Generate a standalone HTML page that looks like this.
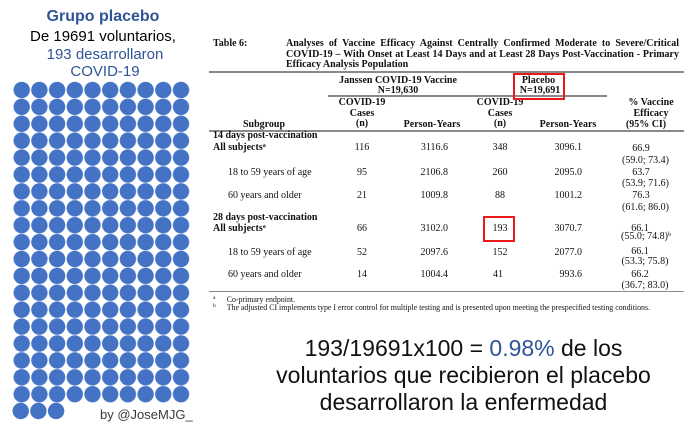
<!DOCTYPE html>
<html>
<head>
<meta charset="utf-8">
<style>
  html,body{margin:0;padding:0;background:#fff;}
  body{width:700px;height:436px;position:relative;overflow:hidden;}
  .s{position:absolute;white-space:nowrap;font-family:"Liberation Sans",Arial,sans-serif;}
  .t{position:absolute;white-space:nowrap;font-family:"Liberation Serif","Times New Roman",serif;font-size:10px;line-height:10px;color:#111;}
  .b{font-weight:bold;}
  .c{width:120px;text-align:center;}
  .r{text-align:right;width:80px;}
  .rule{position:absolute;background:#8a8a8a;}
  .box{position:absolute;border:2.5px solid #e8191a;box-sizing:border-box;}
  sup{font-size:6px;line-height:0;vertical-align:3px;}
</style>
</head>
<body>
<svg width="700" height="436" style="position:absolute;left:0;top:0" xmlns="http://www.w3.org/2000/svg">
  <defs>
    <pattern id="dots" patternUnits="userSpaceOnUse" x="12.85" y="81.55" width="17.7" height="16.9">
      <circle cx="8.85" cy="8.45" r="8.2" fill="#4472c4"/>
    </pattern>
  </defs>
  <rect x="12.85" y="81.55" width="177" height="321.1" fill="url(#dots)"/>
  <circle cx="20.7" cy="411" r="8.2" fill="#4472c4"/>
  <circle cx="38.4" cy="411" r="8.2" fill="#4472c4"/>
  <circle cx="56.1" cy="411" r="8.2" fill="#4472c4"/>
</svg>

<!-- Left title -->
<div class="s" style="left:3px;width:200px;text-align:center;top:8px;font-size:16px;line-height:18px;font-weight:bold;color:#2f5597;">Grupo placebo</div>
<div class="s" style="left:3px;width:200px;text-align:center;top:27.5px;font-size:15px;line-height:18px;color:#000;">De 19691 voluntarios,</div>
<div class="s" style="left:5px;width:200px;text-align:center;top:45.8px;font-size:15px;line-height:18px;color:#2f5597;">193 desarrollaron</div>
<div class="s" style="left:5px;width:200px;text-align:center;top:63.1px;font-size:15px;line-height:18px;color:#2f5597;">COVID-19</div>

<div class="s" style="left:100px;top:407px;font-size:13px;line-height:15px;color:#3a3a3a;">by @JoseMJG_</div>

<!-- Table title -->
<div class="t b" style="left:213px;top:39px;">Table 6:</div>
<div class="t b" style="left:286px;top:39px;width:393px;text-align:justify;text-align-last:justify;white-space:normal;">Analyses of Vaccine Efficacy Against Centrally Confirmed Moderate to Severe/Critical</div>
<div class="t b" style="left:286px;top:50px;width:393px;text-align:justify;text-align-last:justify;white-space:normal;">COVID-19 – With Onset at Least 14 Days and at Least 28 Days Post-Vaccination - Primary</div>
<div class="t b" style="left:286px;top:60px;">Efficacy Analysis Population</div>

<div class="rule" style="left:209px;top:71px;width:475px;height:1.6px;"></div>

<!-- Group headers -->
<div class="t b c" style="left:338px;top:75.6px;">Janssen COVID-19 Vaccine</div>
<div class="t b c" style="left:338px;top:85.6px;">N=19,630</div>
<div class="t b c" style="left:478.5px;top:75.6px;">Placebo</div>
<div class="t b c" style="left:480px;top:86px;">N=19,691</div>
<div class="rule" style="left:328px;top:95.3px;width:279px;height:1.3px;"></div>

<!-- Column headers -->
<div class="t b c" style="left:302px;top:98.3px;">COVID-19</div>
<div class="t b c" style="left:302px;top:108.9px;">Cases</div>
<div class="t b c" style="left:302px;top:119.4px;">(n)</div>
<div class="t b c" style="left:440px;top:98.3px;">COVID-19</div>
<div class="t b c" style="left:440px;top:108.9px;">Cases</div>
<div class="t b c" style="left:440px;top:119.4px;">(n)</div>
<div class="t b c" style="left:204px;top:119.6px;">Subgroup</div>
<div class="t b c" style="left:372px;top:119.6px;">Person-Years</div>
<div class="t b c" style="left:508px;top:119.6px;">Person-Years</div>
<div class="t b c" style="left:591px;top:98.3px;">% Vaccine</div>
<div class="t b c" style="left:591px;top:108.9px;">Efficacy</div>
<div class="t b c" style="left:586px;top:119.6px;">(95% CI)</div>

<div class="rule" style="left:209px;top:130.3px;width:475px;height:1.6px;"></div>

<!-- 14 days -->
<div class="t b" style="left:213px;top:130.9px;">14 days post-vaccination</div>
<div class="t b" style="left:213px;top:143.3px;">All subjects<sup>a</sup></div>
<div class="t c" style="left:302px;top:143.3px;">116</div>
<div class="t r" style="left:368px;top:143.3px;">3116.6</div>
<div class="t c" style="left:440px;top:143.3px;">348</div>
<div class="t r" style="left:502px;top:143.3px;">3096.1</div>
<div class="t c" style="left:581px;top:143.6px;">66.9</div>
<div class="t c" style="left:585.5px;top:156.1px;">(59.0; 73.4)</div>

<div class="t" style="left:228px;top:167.6px;">18 to 59 years of age</div>
<div class="t c" style="left:302px;top:167.6px;">95</div>
<div class="t r" style="left:368px;top:167.6px;">2106.8</div>
<div class="t c" style="left:440px;top:167.6px;">260</div>
<div class="t r" style="left:502px;top:167.6px;">2095.0</div>
<div class="t c" style="left:581px;top:167.6px;">63.7</div>
<div class="t c" style="left:585.5px;top:179.1px;">(53.9; 71.6)</div>

<div class="t" style="left:228px;top:190.6px;">60 years and older</div>
<div class="t c" style="left:302px;top:190.6px;">21</div>
<div class="t r" style="left:368px;top:190.6px;">1009.8</div>
<div class="t c" style="left:440px;top:190.6px;">88</div>
<div class="t r" style="left:502px;top:190.6px;">1001.2</div>
<div class="t c" style="left:581px;top:190.6px;">76.3</div>
<div class="t c" style="left:585.5px;top:203.1px;">(61.6; 86.0)</div>

<!-- 28 days -->
<div class="t b" style="left:213px;top:213.3px;">28 days post-vaccination</div>
<div class="t b" style="left:213px;top:224.3px;">All subjects<sup>a</sup></div>
<div class="t c" style="left:302px;top:224.3px;">66</div>
<div class="t r" style="left:368px;top:224.3px;">3102.0</div>
<div class="t c" style="left:440px;top:224.3px;">193</div>
<div class="t r" style="left:502px;top:224.3px;">3070.7</div>
<div class="t c" style="left:580px;top:224.3px;">66.1</div>
<div class="t c" style="left:586px;top:231.6px;">(55.0; 74.8)<sup>b</sup></div>

<div class="t" style="left:228px;top:248.1px;">18 to 59 years of age</div>
<div class="t c" style="left:302px;top:248.1px;">52</div>
<div class="t r" style="left:368px;top:248.1px;">2097.6</div>
<div class="t c" style="left:440px;top:248.1px;">152</div>
<div class="t r" style="left:502px;top:248.1px;">2077.0</div>
<div class="t c" style="left:580px;top:246.6px;">66.1</div>
<div class="t c" style="left:585px;top:257.1px;">(53.3; 75.8)</div>

<div class="t" style="left:228px;top:269.9px;">60 years and older</div>
<div class="t c" style="left:302px;top:269.9px;">14</div>
<div class="t r" style="left:368px;top:269.9px;">1004.4</div>
<div class="t c" style="left:438px;top:269.9px;">41</div>
<div class="t r" style="left:502px;top:269.9px;">993.6</div>
<div class="t c" style="left:580px;top:269.6px;">66.2</div>
<div class="t c" style="left:585px;top:280.6px;">(36.7; 83.0)</div>

<div class="rule" style="left:209px;top:290.8px;width:475px;height:1.6px;"></div>

<!-- Footnotes -->
<div class="t" style="left:213px;top:295px;font-size:5.5px;line-height:6px;">a</div>
<div class="t" style="left:226.7px;top:296px;font-size:7.9px;line-height:8px;">Co-primary endpoint.</div>
<div class="t" style="left:213px;top:302.5px;font-size:5.5px;line-height:6px;">b</div>
<div class="t" style="left:226.7px;top:303.5px;font-size:7.9px;line-height:8px;">The adjusted CI implements type I error control for multiple testing and is presented upon meeting the prespecified testing conditions.</div>

<!-- Red boxes -->
<div class="box" style="left:513px;top:73px;width:52px;height:27px;"></div>
<div class="box" style="left:483px;top:216px;width:32px;height:26px;"></div>

<!-- Bottom statement -->
<div class="s" style="left:243.5px;width:440px;text-align:center;top:335.2px;font-size:23px;line-height:27px;color:#111;">193/19691x100 = <span style="color:#2f5597">0.98%</span> de los</div>
<div class="s" style="left:243.5px;width:440px;text-align:center;top:362.2px;font-size:23px;line-height:27px;color:#111;">voluntarios que recibieron el placebo</div>
<div class="s" style="left:243.5px;width:440px;text-align:center;top:389.2px;font-size:23px;line-height:27px;color:#111;">desarrollaron la enfermedad</div>
</body>
</html>
